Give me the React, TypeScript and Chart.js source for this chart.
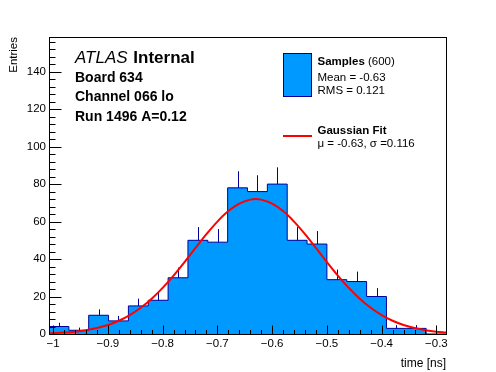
import React, { useEffect, useRef } from "react";
import { Chart, registerables } from "chart.js";

Chart.register(...registerables);

// ---- data ----
const BIN_VALUES = [4, 2, 10, 7, 15, 18, 30, 50, 49, 78, 76, 80, 50, 48, 29, 28, 20, 3, 3, 0];
const X_MIN = -1.0075;
const X_MAX = -0.2825;
const Y_MIN = 0;
const Y_MAX = 158.5;
const X_TICKS = [-1, -0.9, -0.8, -0.7, -0.6, -0.5, -0.4, -0.3];
const Y_TICKS = [0, 20, 40, 60, 80, 100, 120, 140];
const X_MINOR_STEP = 0.02;
const Y_MINOR_STEP = 4;

const GAUSS_X = [
  -1.0075, -1.0, -0.98, -0.96, -0.94, -0.92, -0.9, -0.88, -0.86, -0.84, -0.82, -0.8, -0.78, -0.76,
  -0.74, -0.72, -0.7, -0.68, -0.66, -0.64, -0.63, -0.62, -0.6, -0.58, -0.56, -0.54, -0.52, -0.5,
  -0.48, -0.46, -0.44, -0.42, -0.4, -0.38, -0.36, -0.34, -0.32, -0.3, -0.2825,
];
const GAUSS_Y = [
  0.36, 0.44, 0.76, 1.26, 2.03, 3.16, 4.8, 7.06, 10.1, 14.0, 18.8, 24.6, 31.2, 38.4,
  45.9, 53.3, 60.0, 65.6, 69.6, 71.7, 72.0, 71.7, 69.6, 65.6, 60.0, 53.3, 45.9, 38.4,
  31.2, 24.6, 18.8, 14.0, 10.1, 7.06, 4.8, 3.16, 2.03, 1.26, 0.81,
];

const TITLE_ITALIC = "ATLAS";
const TITLE_BOLD = "Internal";
const INFO_LINES = ["Board 634", "Channel 066 lo", "Run 1496 A=0.12"];
const LEGEND_HIST_TITLE = "Samples";
const LEGEND_HIST_COUNT = " (600)";
const LEGEND_HIST_LINES = ["Mean = -0.63", "RMS = 0.121"];
const LEGEND_FIT_TITLE = "Gaussian Fit";
const LEGEND_FIT_LINE = "\u03bc = -0.63, \u03c3 =0.116";
const X_TITLE = "time [ns]";
const Y_TITLE = "Entries";

// ---- styles ----
const FONT = "'Liberation Sans', Arial, Helvetica, sans-serif";
const FILL = "rgb(0,153,255)";
const EDGE = "rgb(0,0,153)";
const FIT = "rgb(255,0,0)";

function fmt(v: number): string {
  const s = String(Math.abs(Math.round(v * 1000) / 1000));
  return v < 0 ? "\u2212" + s : s;
}

const rootPlugin = {
  id: "rootStyle",
  beforeDatasetsDraw(chart: any) {
    const { ctx, scales } = chart;
    const xs = scales.x;
    const ys = scales.y;
    const bw = (X_MAX - X_MIN) / BIN_VALUES.length;
    ctx.save();
    ctx.strokeStyle = EDGE;
    ctx.lineWidth = 1;
    BIN_VALUES.forEach((v, i) => {
      if (v <= 0) return;
      const err = Math.sqrt(v);
      const cx = Math.round(xs.getPixelForValue(X_MIN + (i + 0.5) * bw)) + 0.5;
      ctx.beginPath();
      ctx.moveTo(cx, ys.getPixelForValue(Math.max(0, v - err)));
      ctx.lineTo(cx, ys.getPixelForValue(v + err));
      ctx.stroke();
    });
    ctx.restore();
  },
  afterDatasetsDraw(chart: any) {
    const { ctx, chartArea, scales } = chart;
    const xs = scales.x;
    const ys = scales.y;
    const L = chartArea.left + 0.5;
    const R = chartArea.right + 0.5;
    const T = chartArea.top + 0.5;
    const B = chartArea.bottom + 0.5;
    ctx.save();
    ctx.strokeStyle = "#000";
    ctx.lineWidth = 1;
    ctx.beginPath();
    // x ticks
    for (let v = X_TICKS[0] - X_MINOR_STEP * 10; v <= X_MAX + 1e-9; v += X_MINOR_STEP) {
      const vv = Math.round(v * 1000) / 1000;
      if (vv < X_MIN - 1e-9) continue;
      const major = X_TICKS.some((t) => Math.abs(t - vv) < 1e-6);
      const px = Math.round(xs.getPixelForValue(vv)) + 0.5;
      ctx.moveTo(px, B);
      ctx.lineTo(px, B - (major ? 9 : 4.5));
    }
    // y ticks
    for (let v = Y_MIN; v <= Y_MAX + 1e-9; v += Y_MINOR_STEP) {
      const major = Y_TICKS.includes(v);
      const py = Math.round(ys.getPixelForValue(v)) + 0.5;
      ctx.moveTo(L, py);
      ctx.lineTo(L + (major ? 12 : 6), py);
    }
    ctx.stroke();
    ctx.strokeRect(L, T, R - L, B - T);
    ctx.restore();
  },
  afterDraw(chart: any) {
    const { ctx, chartArea } = chart;
    ctx.save();
    ctx.fillStyle = "#000";
    ctx.textBaseline = "alphabetic";
    // ATLAS label
    ctx.textAlign = "left";
    ctx.font = `italic 17px ${FONT}`;
    ctx.fillText(TITLE_ITALIC, 75, 63);
    const w = ctx.measureText(TITLE_ITALIC + " ").width;
    ctx.font = `bold 17px ${FONT}`;
    ctx.fillText(TITLE_BOLD, 75 + w + 1, 63);
    ctx.font = `bold 14px ${FONT}`;
    INFO_LINES.forEach((t, i) => ctx.fillText(t, 75, 82 + i * 19.3));

    // legend
    ctx.fillStyle = FILL;
    ctx.fillRect(283.5, 53.5, 28, 43);
    ctx.strokeStyle = EDGE;
    ctx.lineWidth = 1;
    ctx.strokeRect(283.5, 53.5, 28, 43);
    ctx.fillStyle = "#000";
    ctx.font = `bold 11.5px ${FONT}`;
    ctx.fillText(LEGEND_HIST_TITLE, 317.5, 65);
    const sw = ctx.measureText(LEGEND_HIST_TITLE).width;
    ctx.font = `11.5px ${FONT}`;
    ctx.fillText(LEGEND_HIST_COUNT, 317.5 + sw, 65);
    LEGEND_HIST_LINES.forEach((t, i) => ctx.fillText(t, 317.5, 81 + i * 13.3));

    ctx.strokeStyle = FIT;
    ctx.lineWidth = 2;
    ctx.beginPath();
    ctx.moveTo(283, 136);
    ctx.lineTo(312, 136);
    ctx.stroke();
    ctx.font = `bold 11.5px ${FONT}`;
    ctx.fillText(LEGEND_FIT_TITLE, 317.5, 133.5);
    ctx.font = `11.5px ${FONT}`;
    ctx.fillText(LEGEND_FIT_LINE, 317.5, 146.5);

    // axis titles
    ctx.font = `12px ${FONT}`;
    ctx.textAlign = "right";
    ctx.fillText(X_TITLE, chartArea.right, 367);
    ctx.translate(17, chartArea.top);
    ctx.rotate(-Math.PI / 2);
    ctx.font = `11.5px ${FONT}`;
    ctx.textAlign = "right";
    ctx.fillText(Y_TITLE, 0, 0);
    ctx.restore();
  },
};

export default function App() {
  const ref = useRef<HTMLCanvasElement | null>(null);

  useEffect(() => {
    if (!ref.current) return;
    const bw = (X_MAX - X_MIN) / BIN_VALUES.length;
    const histPts: { x: number; y: number }[] = [{ x: X_MIN, y: 0 }];
    BIN_VALUES.forEach((v, i) => histPts.push({ x: X_MIN + i * bw, y: v }));
    histPts.push({ x: X_MAX, y: 0 });
    const fitPts = GAUSS_X.map((x, i) => ({ x, y: GAUSS_Y[i] }));

    const chart = new Chart(ref.current, {
      type: "line",
      data: {
        datasets: [
          {
            label: "Samples",
            data: histPts,
            stepped: "before",
            fill: "origin",
            backgroundColor: FILL,
            borderColor: EDGE,
            borderWidth: 1,
            pointRadius: 0,
            order: 2,
          },
          {
            label: "Gaussian Fit",
            data: fitPts,
            fill: false,
            borderColor: FIT,
            borderWidth: 2,
            pointRadius: 0,
            cubicInterpolationMode: "monotone",
            order: 1,
          },
        ],
      },
      options: {
        animation: false,
        responsive: false,
        devicePixelRatio: 1,
        layout: { padding: { left: 0, right: 50, top: 37, bottom: 0 } },
        plugins: { legend: { display: false }, tooltip: { enabled: false } },
        scales: {
          x: {
            type: "linear",
            min: X_MIN,
            max: X_MAX,
            grid: { display: false, drawTicks: false },
            border: { display: false },
            afterBuildTicks: (s: any) => {
              s.ticks = X_TICKS.map((value) => ({ value }));
            },
            afterFit: (s: any) => {
              s.height = 38;
            },
            ticks: {
              autoSkip: false,
              maxRotation: 0,
              padding: 3,
              color: "#000",
              font: { family: FONT, size: 11.5 },
              callback: (v: any) => fmt(Number(v)),
            },
          },
          y: {
            type: "linear",
            min: Y_MIN,
            max: Y_MAX,
            grid: { display: false, drawTicks: false },
            border: { display: false },
            afterBuildTicks: (s: any) => {
              s.ticks = Y_TICKS.map((value) => ({ value }));
            },
            afterFit: (s: any) => {
              s.width = 49;
            },
            ticks: {
              autoSkip: false,
              padding: 3,
              color: "#000",
              font: { family: FONT, size: 11.5 },
              callback: (v: any) => fmt(Number(v)),
            },
          },
        },
      },
      plugins: [rootPlugin],
    });
    return () => chart.destroy();
  }, []);

  return (
    <div style={{ position: "fixed", left: 0, top: 0, width: 496, height: 372, background: "#fff" }}>
      <canvas ref={ref} width={496} height={372} style={{ display: "block", width: 496, height: 372 }} />
    </div>
  );
}
